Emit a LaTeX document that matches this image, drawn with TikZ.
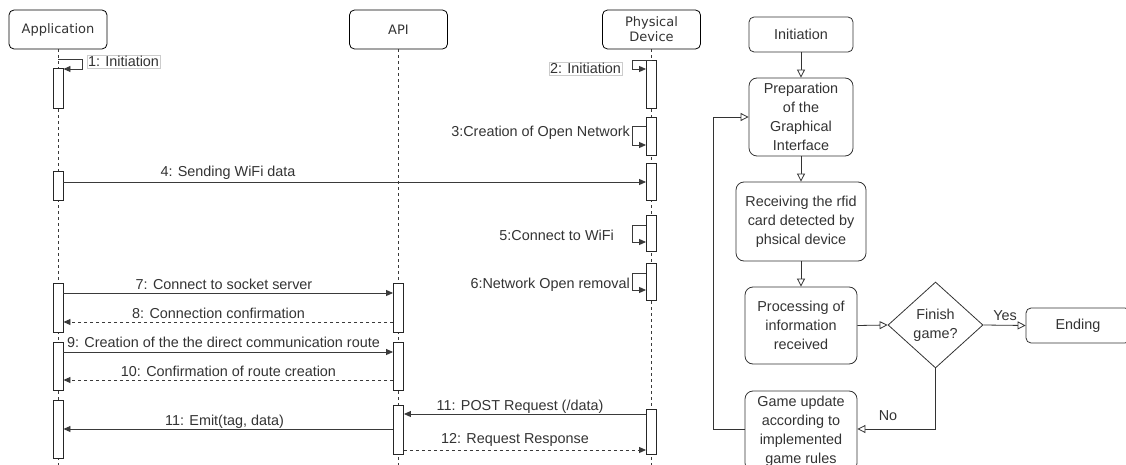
\documentclass[tikz,border=0pt]{standalone}
\usepackage{fontspec}
\setmainfont{Liberation Sans}
\newfontfamily\hdrfont{DejaVu Sans}
\usetikzlibrary{arrows.meta,shapes.geometric,calc}
\definecolor{tc}{HTML}{333333}
\definecolor{lc}{HTML}{3A3A3A}
\begin{document}
\begin{tikzpicture}[x=1pt,y=-1pt,
  font=\fontsize{14.4}{19}\selectfont, text=tc,
  hdr/.style={draw=black, rounded corners=5pt, minimum width=98pt, minimum height=39pt, inner sep=0pt,
    font=\hdrfont\fontsize{13}{15}\selectfont, align=center, line width=0.8pt, text=tc},
  life/.style={draw=lc, dash pattern=on 3pt off 3pt, line width=0.7pt},
  bar/.style={draw=black!85, fill=white, minimum width=10pt, inner sep=0pt, anchor=north, line width=0.9pt},
  msg/.style={draw=lc, line width=0.9pt, -{Triangle[length=7pt,width=6pt]}},
  ret/.style={msg, dash pattern=on 3pt off 3pt},
  lbl/.style={inner sep=0pt, anchor=base},
  tag/.style={draw=black!20, fill=white, inner sep=1.2pt, line width=0.6pt},
  fbox/.style={draw=tc, rounded corners=8pt, align=center, inner sep=0pt, line width=0.8pt},
  farr/.style={draw=tc, line width=0.8pt, -{Triangle[open,fill=white,length=8pt,width=8pt]}}
]
\useasboundingbox (0,0) rectangle (1126,465);
\clip (0,0) rectangle (1126,465);

% ---------- sequence diagram: heads ----------
\node[hdr] (app) at (58,29.5) {Application};
\node[hdr] (api) at (398.5,29.5) {API};
\node[hdr] (dev) at (651.5,29.5) {Physical\\Device};
\coordinate (bottom) at (0,468);

\draw[life] (app.south) -- (app.south |- bottom);
\draw[life] (api.south) -- (api.south |- bottom);
\draw[life] (dev.south) -- (dev.south |- bottom);

% ---------- activation bars ----------
\node[bar, minimum height=40pt] (a1) at (58,68) {};
\node[bar, minimum height=29pt] (a2) at (58,171) {};
\node[bar, minimum height=49pt] (a3) at (58,283) {};
\node[bar, minimum height=48pt] (a4) at (58,342) {};
\node[bar, minimum height=58pt] (a5) at (58,400) {};
\node[bar, minimum height=49pt] (b1) at (398.5,283) {};
\node[bar, minimum height=48pt] (b2) at (398.5,342) {};
\node[bar, minimum height=49pt] (b3) at (398.5,405) {};
\node[bar, minimum height=48pt] (d1) at (651.5,60) {};
\node[bar, minimum height=38pt] (d2) at (651.5,117) {};
\node[bar, minimum height=37pt] (d3) at (651.5,163) {};
\node[bar, minimum height=36pt] (d4) at (651.5,215) {};
\node[bar, minimum height=37pt] (d5) at (651.5,263) {};
\node[bar, minimum height=45pt] (d6) at (651.5,409) {};

% ---------- self messages ----------
\draw[msg] (app.south |- 0,59) -- ++(24,0) |- (a1.east |- 0,69);
\node[tag] (l1) at (123.5,61.5) {1: Initiation};
\draw[msg] (d1.north) -- ++(-19,0) |- (d1.west |- 0,69);
\node[tag] (l2) at (585.5,68.5) {2: Initiation};
\draw[msg] (d2.west |- 0,126) -- ++(-14,0) |- (d2.west |- 0,145);
\node[lbl, anchor=base east] (l3) at (630,137) {3:Creation of Open Network};
\draw[msg] (d4.west |- 0,225) -- ++(-14,0) |- (d4.west |- 0,242);
\node[lbl, anchor=base east] (l5) at (614,240) {5:Connect to WiFi};
\draw[msg] (d5.west |- 0,273) -- ++(-14,0) |- (d5.west |- 0,290);
\node[lbl, anchor=base east] (l6) at (630,288) {6:Network Open removal};

% ---------- messages ----------
\draw[msg] (a2.east |- 0,182) -- (d3.west |- 0,182);
\node[lbl] (l4) at (228,177) {4: Sending WiFi data};
\draw[msg] (a3.east |- 0,293) -- (b1.west |- 0,293);
\node[lbl] (l7) at (224,289) {7: Connect to socket server};
\draw[ret] (b1.west |- 0,322) -- (a3.east |- 0,322);
\node[lbl] (l8) at (218.5,318) {8: Connection confirmation};
\draw[msg] (a4.east |- 0,352) -- (b2.west |- 0,352);
\node[lbl] (l9) at (223.5,347) {9: Creation of the the direct communication route};
\draw[ret] (b2.west |- 0,380) -- (a4.east |- 0,380);
\node[lbl] (l10) at (228.5,376) {10: Confirmation of route creation};
\draw[msg] (d6.west |- 0,414) -- (b3.east |- 0,414);
\node[lbl] (l11) at (520,410) {11: POST Request (/data)};
\draw[msg] (b3.west |- 0,429) -- (a5.east |- 0,429);
\node[lbl] (l11b) at (224.5,425) {11: Emit(tag, data)};
\draw[ret] (b3.east |- 0,450) -- (d6.west |- 0,450);
\node[lbl] (l12) at (515,443) {12: Request Response};

% ---------- flowchart ----------
\node[fbox, rounded corners=5pt, minimum width=104pt, minimum height=35pt] (fi) at (801,34.5) {Initiation};
\node[fbox, minimum width=104pt, minimum height=78pt] (fp) at (801,117) {Preparation\\of the\\Graphical\\Interface};
\node[fbox, minimum width=130pt, minimum height=79pt] (fr) at (801,221.5) {Receiving the rfid\\card detected by\\phsical device};
\node[fbox, minimum width=112pt, minimum height=77pt] (fproc) at (801,325.5) {Processing of\\information\\received};
\node[draw=tc, diamond, line width=0.8pt, minimum width=95pt, minimum height=86pt, inner sep=0pt, align=center] (dia) at (935.5,325) {Finish\\game?};
\node[fbox, rounded corners=5pt, minimum width=104pt, minimum height=35pt] (fend) at (1078,325.5) {Ending};
\node[fbox, minimum width=112pt, minimum height=80pt] (fgu) at (801,431) {Game update\\according to\\implemented\\game rules};

\draw[farr] (fi) -- (fp);
\draw[farr] (fp) -- (fr);
\draw[farr] (fr) -- (fproc);
\draw[farr] (fproc.east) -- (dia.west);
\draw[farr] (dia.east) -- (fend.west);
\node[lbl] (yes) at (1005,320) {Yes};
\draw[farr] (dia.south) |- (fgu.east |- 0,429);
\node[lbl] (no) at (888,420) {No};
\draw[farr] (fgu.west |- 0,429) -- ++(-31,0) |- (fp.west);
\end{tikzpicture}
\end{document}
